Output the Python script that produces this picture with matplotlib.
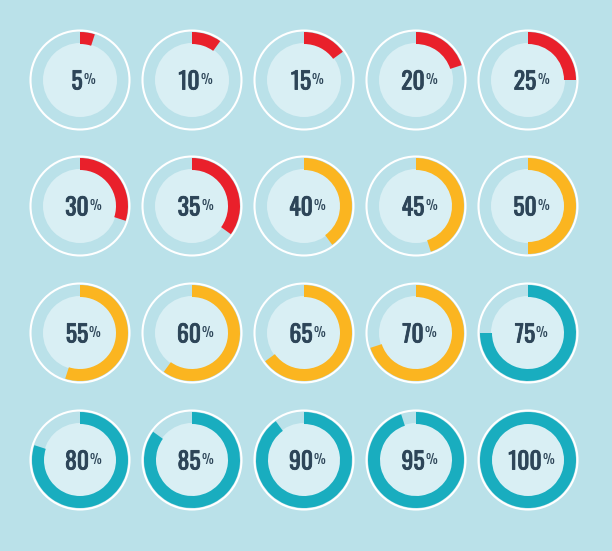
import matplotlib
matplotlib.use("Agg")
import matplotlib.pyplot as plt
from matplotlib.patches import Wedge, Circle
from matplotlib import font_manager
import matplotlib.patheffects as pe

# percent values, laid out in a 5 x 4 grid
values = [5, 10, 15, 20, 25,
          30, 35, 40, 45, 50,
          55, 60, 65, 70, 75,
          80, 85, 90, 95, 100]

# colour bands: up to 35 red, up to 70 orange, rest teal
band_limits = [35, 70, 100]
band_colors = ["#e9202b", "#fbb520", "#19adbf"]

bg = "#bae1e9"
disk = "#d9eff4"
text_color = "#2d4558"

names = {f.name for f in font_manager.fontManager.ttflist}
family = next(f for f in ["Oswald", "Roboto Condensed", "Barlow Condensed", "DejaVu Sans"]
              if f in names)

W, H = 612, 551
fig = plt.figure(figsize=(W / 100, H / 100), dpi=100)
fig.patch.set_facecolor(bg)
ax = fig.add_axes([0, 0, 1, 1])
ax.set_xlim(0, W)
ax.set_ylim(0, H)
ax.set_aspect("equal")
ax.axis("off")

col_x = [80, 192, 304, 416, 528]
row_y = [80, 206, 333, 460]
bold = [pe.withStroke(linewidth=0.6, foreground=text_color)]

for i, v in enumerate(values):
    cx = col_x[i % 5]
    cy = H - row_y[i // 5]
    color = next(c for lim, c in zip(band_limits, band_colors) if v <= lim)

    ax.add_patch(Circle((cx, cy), 49.5, facecolor="none", edgecolor="white", lw=1.5))
    ax.add_patch(Circle((cx, cy), 37, facecolor=disk, edgecolor="none"))
    ax.add_patch(Wedge((cx, cy), 48, 90 - 3.6 * v, 90, width=12,
                       facecolor=color, edgecolor="none"))

    num = ax.text(cx - 3, cy - 2, str(v), ha="center", va="center",
                  fontsize=17, fontweight="bold", family=family,
                  color=text_color, path_effects=bold)
    ax.annotate("%", xy=(1, 1), xycoords=num, xytext=(0.5, -2),
                textcoords="offset points", ha="left", va="top",
                fontsize=9.5, family=family, color=text_color)

fig.savefig("out.png", dpi=100, facecolor=bg)
